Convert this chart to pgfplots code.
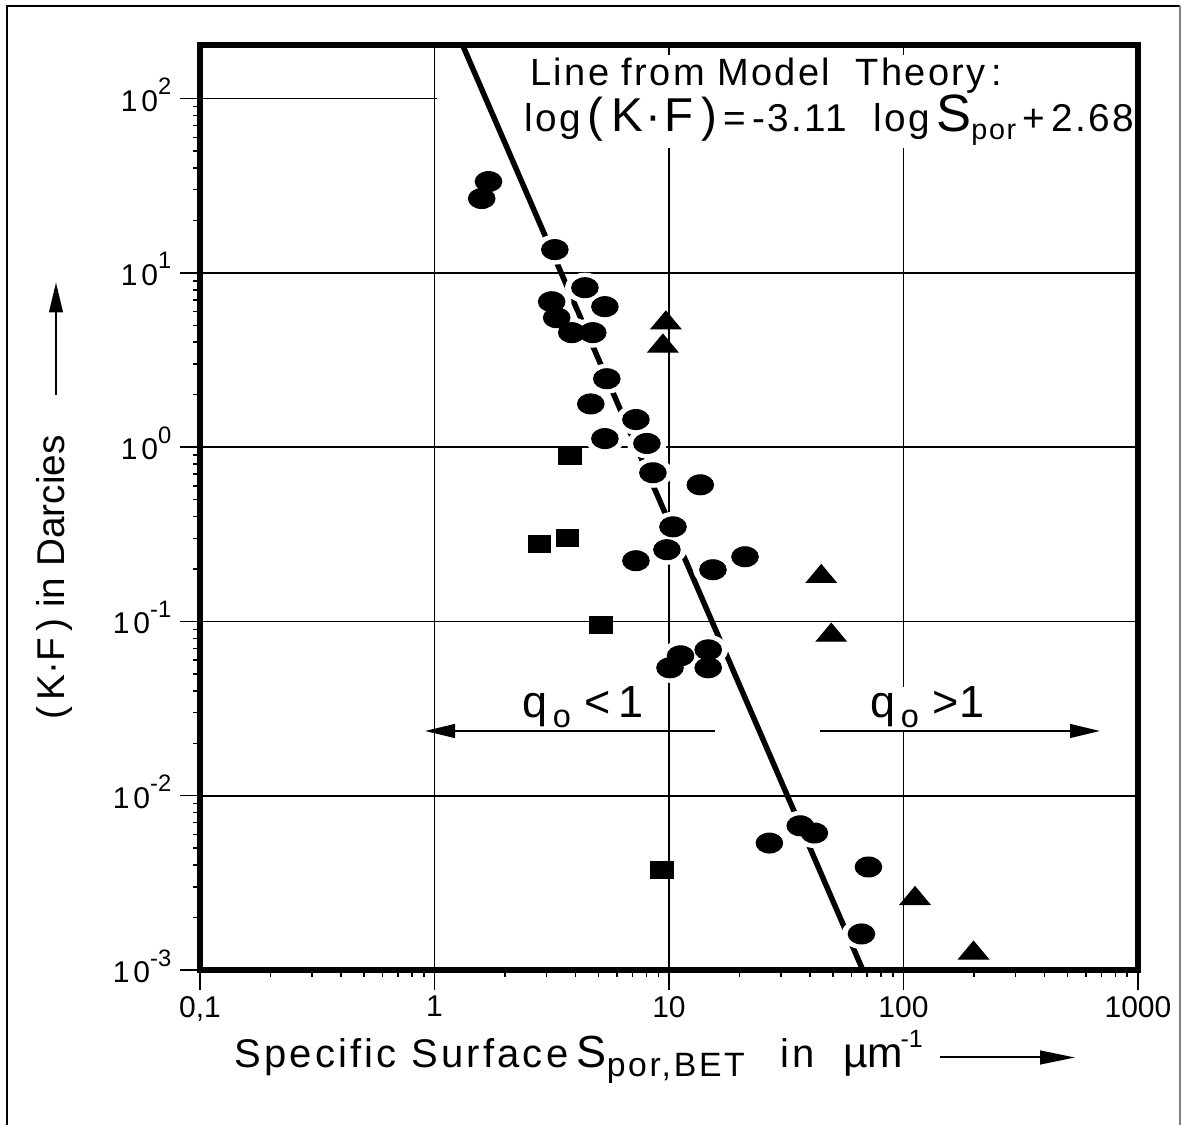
\documentclass[border=0pt]{standalone}
\usepackage{pgfplots}
\usepackage{pgfplotstable}
\pgfplotsset{compat=1.18}
\usepackage{fontspec}
\setmainfont{Liberation Sans}
\newfontfamily\spaced[LetterSpace=8]{Liberation Sans}
\newfontfamily\spacedb[LetterSpace=6]{Liberation Sans}
\usetikzlibrary{arrows.meta}
\newcommand\yl[1]{1\kern1.5pt0\raisebox{0.55em}{\fontsize{9.5}{10}\selectfont #1}}

\pgfplotstableread{
x y
1.59 26.7
1.70 33.4
3.26 13.6
4.38 8.22
3.16 6.83
5.33 6.40
3.32 5.53
3.85 4.54
4.73 4.54
5.43 2.47
4.64 1.77
7.23 1.44
5.33 1.12
8.05 1.05
8.54 0.713
13.6 0.608
10.4 0.349
9.80 0.258
7.23 0.223
15.4 0.198
21.1 0.235
11.2 0.0635
10.1 0.0542
14.7 0.0687
14.7 0.0542
36.3 0.00672
41.7 0.00611
26.8 0.00535
70.9 0.0039
66.2 0.00161
}\circdata
\pgfplotstableread{
x y
3.78 0.893
2.81 0.279
3.70 0.302
5.12 0.0956
9.33 0.00375
}\sqdata
\pgfplotstableread{
x y
9.70 5.16
9.42 3.80
44.6 0.181
49.2 0.0833
112 0.00257
199 0.00125
}\tridata

\begin{document}
\begin{tikzpicture}
\useasboundingbox (0,0) rectangle (472.4pt,450pt);
\draw[line width=0.9pt] (2.8pt,0) -- (2.8pt,447.6pt) -- (472pt,447.6pt);
\draw[line width=0.6pt,gray] (472pt,447.6pt) -- (472pt,0);
\begin{axis}[
 at={(80pt,62pt)}, anchor=south west,
 scale only axis, width=375.2pt, height=370pt,
 xmode=log, ymode=log,
 xmin=0.1,xmax=1000,ymin=0.001,ymax=203,
 axis line style={line width=2.4pt},
 xtick={0.1,1,10,100,1000}, xticklabels={{0,1},1,10,100,1000},
 ytick={0.001,0.01,0.1,1,10,100},
 yticklabels={\yl{-3},\yl{-2},\yl{-1},\yl{0},\yl{1},\yl{2}},
 minor xtick={}, minor ytick={},
 tick align=outside, tick pos=left,
 major tick length=8pt,
 every tick/.style={line width=0.6pt, black},
 ticklabel style={font=\fontsize{12}{14}\selectfont},
 xticklabel style={anchor=north, yshift=1pt},
 yticklabel style={anchor=east, yshift=1.5pt},
 clip=true,
]
\addplot[line width=2.2pt, no marks] coordinates {(1.3176,203) (67.06,0.001)};
\addplot[only marks, mark=*, mark size=5.8pt, mark options={draw=white, fill=white, xscale=1.33}] table {\circdata};
\draw[line width=0.7pt] (axis cs:1,0.001) -- (axis cs:1,203);
\draw[line width=0.7pt] (axis cs:10,0.001) -- (axis cs:10,52);
\draw[line width=0.7pt] (axis cs:10,178) -- (axis cs:10,203);
\draw[line width=0.7pt] (axis cs:100,0.001) -- (axis cs:100,0.0235);
\draw[line width=0.7pt] (axis cs:100,0.042) -- (axis cs:100,52);
\draw[line width=0.7pt] (axis cs:100,178) -- (axis cs:100,203);
\draw[line width=0.7pt] (axis cs:0.1,100) -- (axis cs:1.03,100);
\draw[line width=0.7pt] (axis cs:0.1,10) -- (axis cs:1000,10);
\draw[line width=0.7pt] (axis cs:0.1,1) -- (axis cs:1000,1);
\draw[line width=0.7pt] (axis cs:0.1,0.1) -- (axis cs:1000,0.1);
\draw[line width=0.7pt] (axis cs:0.1,0.01) -- (axis cs:1000,0.01);
\addplot[only marks, mark=*, mark size=4pt, mark options={draw=black, fill=black, xscale=1.33}] table {\circdata};
\addplot[only marks, mark=square*, mark size=4.5pt, mark options={draw=black, fill=black, yscale=0.77}] table {\sqdata};
\addplot[only marks, mark=triangle*, mark size=6.9pt, mark options={draw=black, fill=black, yscale=0.69}] table {\tridata};
\end{axis}
% annotation
\node[anchor=base west, inner sep=0pt] at (212pt,415.6pt) {\spacedb\fontsize{15.2}{16}\selectfont Line from Model\ \ Theory\,:};
\node[anchor=base west, inner sep=0pt] at (209.6pt,397.2pt) {\spacedb\fontsize{15.5}{16}\selectfont log\,{\fontsize{19}{18}\selectfont(\,K·F\,)}\,=\,-3.11\ \ log\,{\fontsize{21}{20}\selectfont S}{\fontsize{11.5}{11}\selectfont\raisebox{-0.25em}{por}}\,+\,2.68};
% q labels
\node[anchor=base west, inner sep=0pt] at (208.8pt,162.8pt) {{\fontsize{18}{17}\selectfont q}{\fontsize{13}{12}\selectfont\raisebox{-0.3em}{\,o}}\ \ {\fontsize{18}{17}\selectfont <\,1}};
\node[anchor=base west, inner sep=0pt] at (348pt,162.8pt) {{\fontsize{18}{17}\selectfont q}{\fontsize{13}{12}\selectfont\raisebox{-0.3em}{\,o}}\ \ {\fontsize{18}{17}\selectfont >1}};
\draw[line width=0.8pt, -{Triangle[length=12pt,width=5.5pt]}] (286pt,157.6pt) -- (170pt,157.6pt);
\draw[line width=0.8pt, -{Triangle[length=12pt,width=5.5pt]}] (328pt,157.6pt) -- (440pt,157.6pt);
% x label
\node[anchor=base west, inner sep=0pt] at (93.6pt,23pt) {\spaced\fontsize{16}{18}\selectfont Specific Surface};
\node[anchor=base west, inner sep=0pt] at (230.4pt,23pt) {\fontsize{18}{18}\selectfont S};
\node[anchor=base west, inner sep=0pt] at (242.5pt,19.4pt) {\spaced\fontsize{13.5}{14}\selectfont por,BET};
\node[anchor=base west, inner sep=0pt] at (312pt,23pt) {\spaced\fontsize{16}{18}\selectfont in};
\node[anchor=base west, inner sep=0pt] at (337pt,23pt) {\fontsize{17}{18}\selectfont µm};
\node[anchor=base west, inner sep=0pt] at (360pt,31pt) {\fontsize{10}{10}\selectfont -1};
\draw[line width=0.8pt, -{Triangle[length=14pt,width=5.5pt]}] (376pt,27pt) -- (430pt,27pt);
% y label
\node[rotate=90, inner sep=0pt] at (21.6pt,219pt) {\fontsize{15.5}{16}\selectfont (\,K·F\,)\ in Darcies};
\draw[line width=0.8pt, -{Triangle[length=12pt,width=5.5pt]}] (22.4pt,292pt) -- (22.4pt,337pt);
\end{tikzpicture}
\end{document}
